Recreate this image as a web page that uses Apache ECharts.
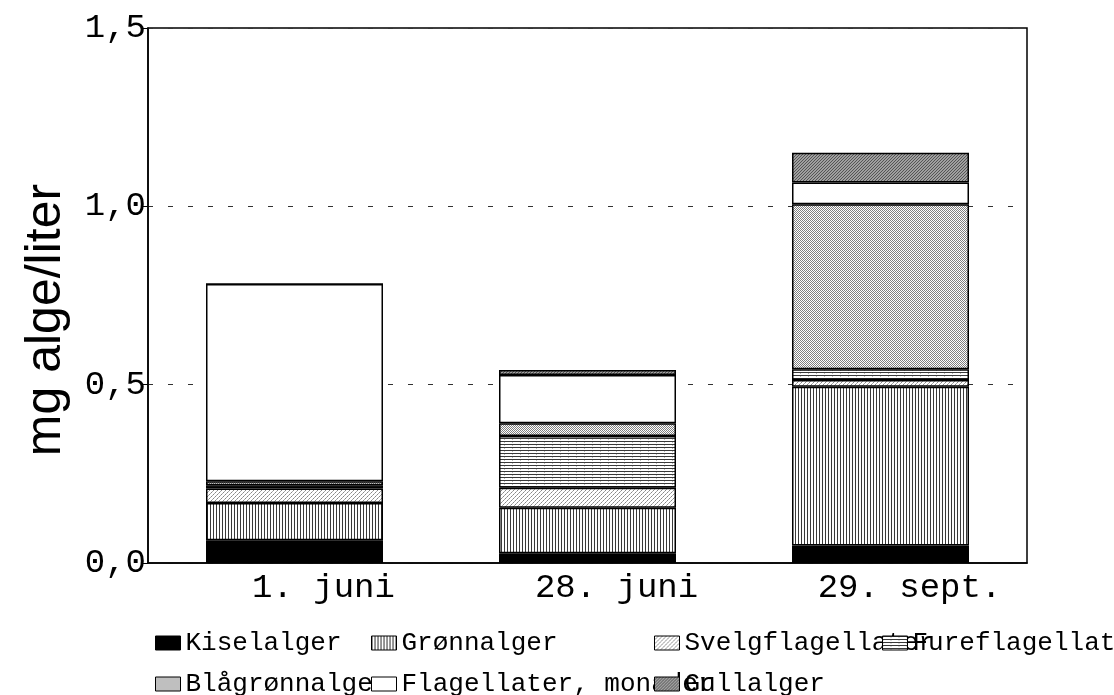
<!DOCTYPE html>
<html>
<head>
<meta charset="utf-8">
<script src="https://cdn.jsdelivr.net/npm/echarts@6/dist/echarts.min.js"></script>
<style>
html,body{margin:0;padding:0;background:#fff;}
#chart{width:1114px;height:695px;}
</style>
</head>
<body>
<div id="chart"></div>
<script>
// ---- data ----
var categories = ['1. juni', '28. juni', '29. sept.'];
var seriesNames = ['Kiselalger', 'Grønnalger', 'Svelgflagellater', 'Fureflagellater', 'Blågrønnalger', 'Flagellater, monader', 'Gullalger'];
var kiselalger  = [0.064, 0.027, 0.049];
var gronnalger  = [0.104, 0.128, 0.445];
var svelgflag   = [0.041, 0.056, 0.019];
var fureflag    = [0.009, 0.145, 0.030];
var blagronn    = [0.011, 0.036, 0.463];
var flagellater = [0.553, 0.135, 0.061];
var gullalger   = [0.000, 0.014, 0.083];
var yTicks = [0, 0.5, 1.0, 1.5];

// ---- patterns ----
function makeTile(w, h, bg, draw) {
  var c = document.createElement('canvas');
  c.width = w; c.height = h;
  var ctx = c.getContext('2d');
  ctx.fillStyle = bg; ctx.fillRect(0, 0, w, h);
  draw(ctx);
  return {image: c, repeat: 'repeat'};
}
function px(ctx, x, y, col) { ctx.fillStyle = col; ctx.fillRect(x, y, 1, 1); }

var patVertical = makeTile(6, 6, '#ffffff', function (ctx) {
  ctx.fillStyle = '#3a3a3a'; ctx.fillRect(0, 0, 1, 6); ctx.fillRect(3, 0, 1, 6);
});
var patDiag = makeTile(8, 8, '#ffffff', function (ctx) {
  for (var i = 0; i < 8; i++) px(ctx, 7 - i, i, (i % 2 ? '#aaa' : '#888'));
  for (var j = 0; j < 4; j++) px(ctx, 3 - j, j, (j % 2 ? '#aaa' : '#888'));
  for (var k = 4; k < 8; k++) px(ctx, 11 - k, k, (k % 2 ? '#aaa' : '#888'));
});
var patHoriz = makeTile(8, 6, '#ffffff', function (ctx) {
  ctx.fillStyle = '#3a3a3a'; ctx.fillRect(0, 0, 8, 1); ctx.fillRect(0, 3, 8, 1);
  px(ctx, 0, 1, '#bbb'); px(ctx, 0, 4, '#bbb');
});
var patCheck = makeTile(8, 8, '#ffffff', function (ctx) {
  for (var y = 0; y < 8; y++) for (var x = 0; x < 8; x++) {
    if ((x + y) % 2 === 0) px(ctx, x, y, '#808080');
  }
});
var patGull = makeTile(6, 6, '#a0a0a0', function (ctx) {
  for (var i = 0; i < 6; i++) { px(ctx, 5 - i, i, '#555'); px(ctx, (8 - i) % 6, i, '#555'); }
});

var fills = ['#000000', patVertical, patDiag, patHoriz, patCheck, '#ffffff', patGull];
var values = [kiselalger, gronnalger, svelgflag, fureflag, blagronn, flagellater, gullalger];

var series = seriesNames.map(function (name, i) {
  return {
    name: name,
    type: 'bar',
    stack: 'total',
    barWidth: 177,
    data: values[i],
    itemStyle: {color: fills[i], borderColor: '#000', borderWidth: 1.5},
    emphasis: {disabled: true}
  };
});

var legendPos = [
  [155, 630], [371, 630], [654, 630], [882, 630],
  [155, 671], [371, 671], [654, 671]
];
var legends = seriesNames.map(function (name, i) {
  return {
    data: [{name: name, icon: 'rect'}],
    left: legendPos[i][0],
    top: legendPos[i][1],
    padding: 0,
    itemWidth: 25,
    itemHeight: 14,
    selectedMode: false,
    itemStyle: {borderColor: '#000', borderWidth: 1},
    textStyle: {fontFamily: 'Liberation Mono', fontSize: 26, color: '#000'}
  };
});

var chart = echarts.init(document.getElementById('chart'), null, {renderer: 'canvas'});
chart.setOption({
  animation: false,
  backgroundColor: '#fff',
  tooltip: {show: false},
  grid: {left: 148, right: 87, top: 28, bottom: 132, show: true, borderColor: '#000', borderWidth: 1.5, backgroundColor: 'transparent'},
  legend: legends,
  graphic: [{
    type: 'text',
    x: 46, y: 320,
    rotation: Math.PI / 2,
    style: {text: 'mg alge/liter', font: '50px "Liberation Sans", Arial, sans-serif', fill: '#000', align: 'center', verticalAlign: 'middle'}
  }],
  xAxis: {
    type: 'category',
    data: categories,
    axisLine: {lineStyle: {color: '#000', width: 1.5}},
    axisTick: {show: false},
    axisLabel: {fontFamily: 'Liberation Mono', fontSize: 34, color: '#000', margin: 8, padding: [0, 0, 0, 58]}
  },
  yAxis: {
    type: 'value',
    min: yTicks[0], max: yTicks[yTicks.length - 1], interval: 0.5,
    axisLine: {show: true, lineStyle: {color: '#000', width: 1.5}},
    axisTick: {show: true, length: 5, lineStyle: {color: '#000'}},
    axisLabel: {fontFamily: 'Liberation Mono', fontSize: 34, color: '#000', margin: 2,
      formatter: function (v) { return v.toFixed(1).replace('.', ','); }},
    splitLine: {show: true, lineStyle: {color: '#333', width: 1, type: [5, 15]}}
  },
  series: series
});
</script>
</body>
</html>
